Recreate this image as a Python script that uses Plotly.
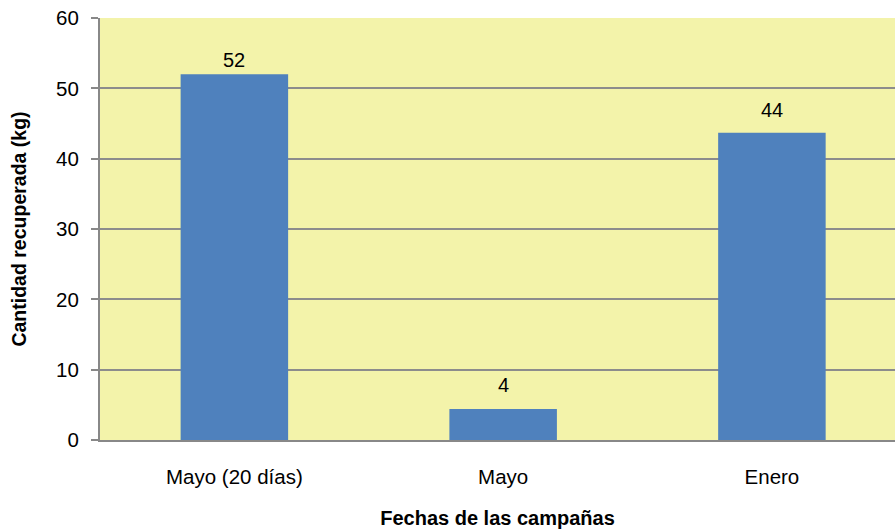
import plotly.graph_objects as go

categories = ["Mayo (20 días)", "Mayo", "Enero"]
values = [52.0, 4.4, 43.7]
y_ticks = [0, 10, 20, 30, 40, 50, 60]

label_shift_px = [14, 24, 23]  # style: pixel offset of value labels above bars

fig = go.Figure()
fig.add_trace(go.Bar(
    x=categories, y=values, width=0.4,
    marker=dict(color="#4F81BD", line=dict(width=0)),
    hoverinfo="x+y",
))

for cat, val, sh in zip(categories, values, label_shift_px):
    fig.add_annotation(
        x=cat, y=val, text=f"{val:.0f}", showarrow=False,
        yanchor="middle", yshift=sh,
        font=dict(family="Liberation Sans, Arial", size=20, color="#000000"),
    )

fig.update_layout(
    width=895, height=529,
    margin=dict(l=100, r=0, t=18, b=89),
    paper_bgcolor="#FFFFFF",
    plot_bgcolor="#F3F3AA",
    showlegend=False,
    font=dict(family="Liberation Sans, Arial", size=20.5, color="#000000"),
    xaxis=dict(
        range=[-0.5, 2.458],
        showgrid=False, ticks="", showline=True, linecolor="#888888", linewidth=2,
        ticklabelstandoff=17,
        title=dict(text="<b>Fechas de las campañas</b>", font=dict(size=20), standoff=25),
    ),
    yaxis=dict(
        range=[0, 60], tickvals=y_ticks, ticks="outside", ticklen=7, tickcolor="#888888",
        tickwidth=2,
        showline=True, linecolor="#888888", linewidth=2,
        showgrid=True, gridcolor="#8C8C8C", gridwidth=1.5,
        zeroline=False,
        ticklabelstandoff=8,
        title=dict(text="<b>Cantidad recuperada (kg)</b>", font=dict(size=19.5), standoff=24),
    ),
)

fig.write_html("out.html")
